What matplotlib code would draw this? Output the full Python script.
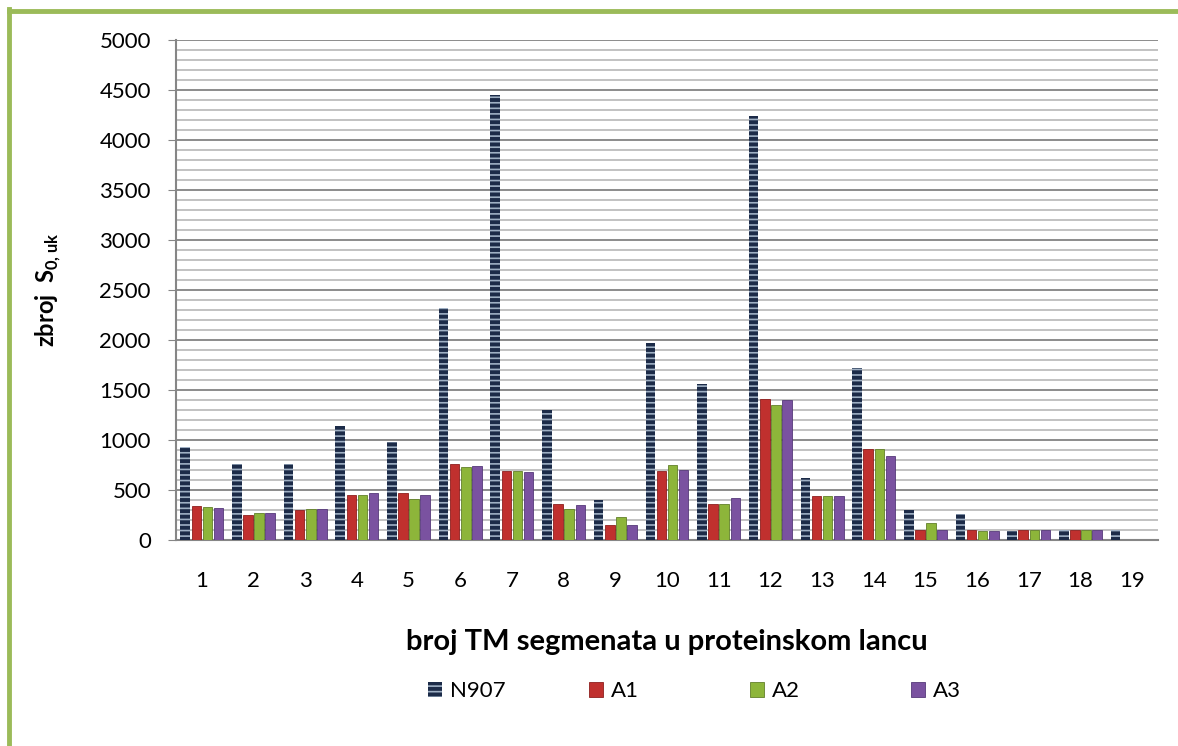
import numpy as np
import matplotlib
matplotlib.use("Agg")
import matplotlib.pyplot as plt
from matplotlib.lines import Line2D
from matplotlib.patches import Patch

plt.rcParams["font.family"] = ["Lato", "DejaVu Sans"]
plt.rcParams["mathtext.fontset"] = "custom"
plt.rcParams["mathtext.rm"] = "Lato"
plt.rcParams["mathtext.bf"] = "Lato:bold"
plt.rcParams["hatch.linewidth"] = 1.2

segments = [str(i) for i in range(1, 20)]
n907 = [930, 760, 760, 1140, 980, 2320, 4450, 1300, 400, 1970, 1560, 4240, 620, 1720, 300, 260, 90, 100, 100]
a1 = [340, 250, 300, 450, 470, 760, 690, 360, 150, 690, 360, 1410, 440, 910, 100, 100, 100, 100, 0]
a2 = [330, 270, 310, 450, 410, 730, 690, 310, 230, 750, 360, 1350, 440, 910, 170, 90, 100, 100, 0]
a3 = [320, 270, 310, 470, 450, 740, 680, 350, 150, 700, 420, 1400, 440, 840, 100, 90, 100, 100, 0]

series = [("N907", n907, "#1c2b48", "#9fb0c4"),
          ("A1", a1, "#c0302e", "#8e1f1e"),
          ("A2", a2, "#8db53a", "#62802a"),
          ("A3", a3, "#7a52a0", "#56397a")]

fig = plt.figure(figsize=(11.78, 7.46), dpi=100)
ax = fig.add_axes([176 / 1178, 1 - 540 / 746, (1158 - 176) / 1178, 500 / 746])

x = np.arange(len(segments))
step = 0.215
width = 0.185
handles = []
for i, (name, vals, fc, ec) in enumerate(series):
    pos = x + (i - 1.5) * step
    if name == "N907":
        ax.bar(pos, vals, width, color=fc, edgecolor=ec, hatch="---", linewidth=0, zorder=3)
        handles.append(Patch(facecolor=fc, edgecolor=ec, hatch="---", linewidth=0))
    else:
        ax.bar(pos, vals, width, color=fc, edgecolor=ec, linewidth=0.6, zorder=3)
        handles.append(Patch(facecolor=fc, edgecolor=ec, linewidth=0.6))

ax.set_xlim(-0.5, len(segments) - 0.5)
ax.set_ylim(0, 5000)
ax.set_yticks(np.arange(0, 5001, 500))
ax.set_yticks(np.arange(0, 5001, 100), minor=True)
ax.set_xticks(x)
ax.set_xticklabels(segments)
ax.grid(axis="y", which="major", color="#8c8c8c", linewidth=1.4, zorder=0)
ax.grid(axis="y", which="minor", color="#b8b8b8", linewidth=1.2, zorder=0)
ax.tick_params(axis="y", which="major", length=6, color="#868686", labelsize=16, pad=12)
ax.tick_params(axis="y", which="minor", length=0)
ax.tick_params(axis="x", length=0, labelsize=16, pad=22)
for s in ["top", "right"]:
    ax.spines[s].set_visible(False)
for s in ["left", "bottom"]:
    ax.spines[s].set_color("#868686")
    ax.spines[s].set_linewidth(1.5)

ax.set_xlabel("broj TM segmenata u proteinskom lancu", fontsize=21, fontweight="bold", labelpad=28)
ax.set_ylabel(r"zbroj  S$_{\mathbf{0,uk}}$", fontsize=17, fontweight="bold", labelpad=26)

# legend entries spaced evenly like the original
for i, (name, h) in enumerate(zip([s[0] for s in series], handles)):
    fig.legend([h], [name], loc="center left", bbox_to_anchor=((428 + 161 * i) / 1178, 1 - 691 / 746),
               frameon=False, fontsize=16, handlelength=0.65, handleheight=0.65,
               handletextpad=0.35, borderpad=0, borderaxespad=0)

fig.add_artist(Line2D([9 / 1178, 9 / 1178], [0, 1 - 9 / 746], color="#9bbb59", linewidth=3.5))
fig.add_artist(Line2D([9 / 1178, 1], [1 - 10.5 / 746, 1 - 10.5 / 746], color="#9bbb59", linewidth=3.5))

fig.savefig("out.png", dpi=100)
